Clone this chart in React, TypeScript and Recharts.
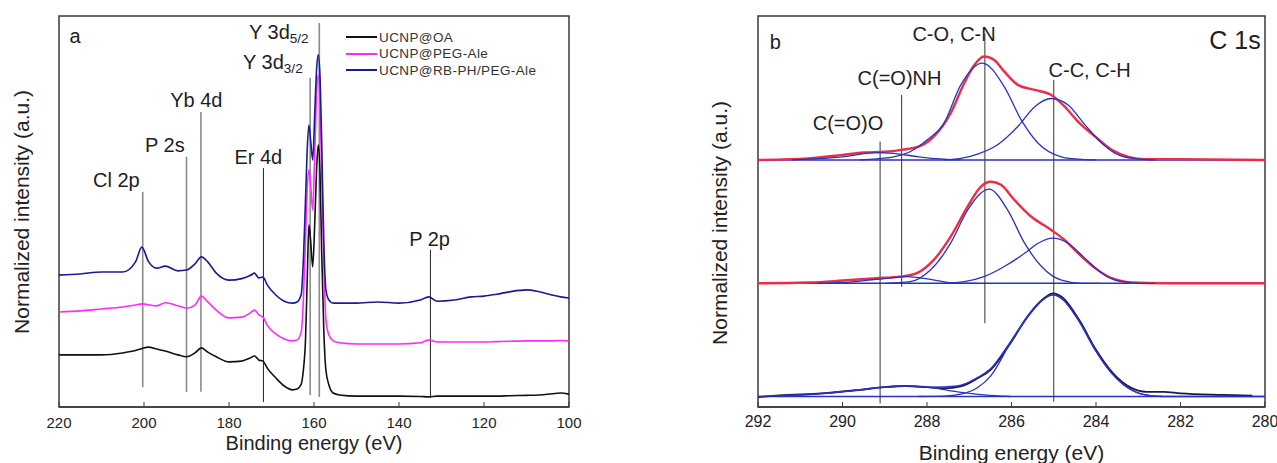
import React from 'react';
import { LineChart, Line, XAxis, YAxis, ReferenceLine, ReferenceDot, ReferenceArea, Legend } from 'recharts';

const FONT = '"Liberation Sans", Arial, sans-serif';

// panel a – survey spectra
const surveyEnergy = [220, 215, 210, 205, 202, 200.5, 199, 197, 195, 192, 190, 188, 186.5, 185, 183, 180, 177, 175, 174, 173, 172, 171, 169, 167, 165, 164, 163, 162.5, 162, 161.6, 161.2, 160.8, 160.3, 159.8, 159.4, 159.0, 158.6, 158.2, 157.7, 157.2, 156.5, 155.5, 154, 150, 145, 140, 135, 133, 131, 127, 123, 120, 117, 114, 110, 107, 104, 102, 100];
const oaIntensity = [13.4, 13.4, 13.4, 13.9, 14.5, 15.0, 15.4, 14.9, 14.4, 13.4, 12.9, 13.9, 15.2, 14.1, 12.9, 11.6, 11.8, 12.6, 13.1, 12.1, 11.8, 10.0, 7.5, 5.4, 4.4, 4.6, 5.9, 9.5, 17.2, 32.6, 46.8, 42.9, 36.0, 48.1, 60.9, 67.4, 60.9, 40.4, 19.8, 9.5, 5.7, 3.6, 3.1, 2.8, 2.8, 2.8, 2.7, 2.6, 2.8, 2.8, 2.8, 2.8, 2.8, 2.9, 3.0, 3.1, 3.4, 3.6, 3.3];
const pegIntensity = [24.4, 24.7, 25.2, 25.7, 26.2, 26.5, 26.3, 26.0, 26.8, 26.0, 25.4, 26.2, 28.5, 27.0, 24.9, 22.9, 23.1, 24.2, 24.9, 23.7, 23.1, 21.0, 18.8, 17.5, 17.0, 17.2, 19.3, 27.5, 42.9, 55.8, 61.0, 57.1, 50.6, 66.1, 80.2, 85.3, 78.9, 60.9, 37.8, 22.4, 18.5, 17.0, 16.5, 16.2, 16.2, 16.2, 16.5, 17.2, 16.7, 16.7, 16.7, 16.7, 16.8, 16.9, 17.0, 17.0, 17.0, 17.1, 17.0];
const rbIntensity = [33.9, 34.2, 34.7, 34.7, 37.3, 41.1, 37.5, 35.7, 36.2, 35.0, 35.2, 36.8, 38.6, 37.3, 34.4, 32.6, 33.0, 33.8, 34.4, 33.2, 33.4, 31.4, 28.8, 27.2, 26.7, 27.0, 29.0, 37.8, 53.2, 66.1, 72.5, 68.6, 63.5, 76.3, 86.6, 90.5, 85.3, 68.6, 42.9, 30.1, 27.5, 26.7, 26.7, 26.7, 27.0, 26.7, 27.5, 28.3, 27.2, 27.5, 28.3, 28.5, 29.0, 29.6, 30.1, 29.6, 28.8, 28.3, 28.0];

const surveyNames = ['UCNP@OA', 'UCNP@PEG-Ale', 'UCNP@RB-PH/PEG-Ale'];
const surveyColors = ['#111111', '#ff2bff', '#1a1a96'];
const surveyValues = [oaIntensity, pegIntensity, rbIntensity];

const surveyTicks = [220, 200, 180, 160, 140, 120, 100];

const peakNames = ['Cl 2p', 'P 2s', 'Yb 4d', 'Er 4d', 'Y 3d', 'Y 3d', 'P 2p'];
const peakSubs = ['', '', '', '', '3/2', '5/2', ''];
const peakLineEnergy = [200.3, 190, 186.6, 171.9, 160.9, 158.75, 132.6];
const peakLineTop = [55.3, 64.3, 75.8, 61.4, 84.6, 98.7, 40.4];
const peakLineBottom = [5.1, 3.9, 3.9, 1.3, 3.1, 2.6, 2.3];
const peakLineColor = ['#8a8a8a', '#8a8a8a', '#8a8a8a', '#222', '#8a8a8a', '#8a8a8a', '#222'];
const peakLabelEnergy = [206.5, 195.1, 187.7, 173.1, 176.7, 175.3, 132.8];
const peakLabelHeight = [58.4, 67.4, 78.9, 64.3, 88.8, 96.5, 43.1];

// panel b – C 1s high resolution
const c1sTicks = [292, 290, 288, 286, 284, 282, 280];
const levelBaselines = [63.5, 31.8, 2.7];

const topEnvEnergy = [292, 290.8, 290.0, 289.5, 289.0, 288.6, 288.2, 287.84, 287.44, 287.12, 286.88, 286.65, 286.41, 286.17, 285.85, 285.45, 285.06, 284.74, 284.42, 284.02, 283.63, 283.23, 282.83, 282.04, 280];
const topEnvValue = [63.5, 63.9, 64.8, 65.4, 65.6, 66.1, 66.9, 69.5, 75.5, 83.2, 87.9, 90.1, 89.2, 86.2, 82.8, 81.5, 80.2, 77.2, 73.3, 69.5, 66.1, 64.3, 63.7, 63.7, 63.5];
const topCOEnergy = [289.6, 289.19, 288.79, 288.4, 288.0, 287.6, 287.2, 286.69, 286.17, 285.77, 285.37, 284.82, 284.42, 284.0];
const topCOValue = [63.5, 63.8, 64.3, 65.6, 68.6, 72.9, 82.8, 88.4, 82.3, 73.8, 67.8, 64.3, 63.7, 63.5];
const topCCEnergy = [287.6, 287.2, 286.8, 286.33, 285.85, 285.45, 285.06, 284.66, 284.26, 283.86, 283.47, 282.99, 282.6];
const topCCValue = [63.5, 63.9, 65.0, 67.4, 72.1, 77.2, 79.3, 77.6, 72.5, 67.8, 64.8, 63.7, 63.5];
const topCOOEnergy = [291.2, 290.8, 290.0, 289.2, 288.8, 288.2, 287.6, 287.2];
const topCOOValue = [63.5, 63.7, 64.3, 65.4, 65.2, 64.3, 63.7, 63.5];

const midEnvEnergy = [292, 290.8, 290.0, 289.2, 288.63, 288.24, 287.84, 287.44, 287.04, 286.73, 286.49, 286.25, 285.93, 285.53, 285.06, 284.74, 284.42, 284.02, 283.63, 283.15, 282.43, 280];
const midEnvValue = [31.8, 32.0, 32.5, 33.1, 33.5, 34.4, 37.8, 43.8, 51.5, 56.6, 57.9, 57.1, 53.2, 48.9, 45.5, 42.9, 39.5, 35.7, 33.1, 32.0, 31.8, 31.8];
const midCOEnergy = [289.0, 288.4, 287.92, 287.44, 287.04, 286.53, 286.09, 285.69, 285.29, 284.82, 284.34, 283.9];
const midCOValue = [31.8, 32.2, 35.2, 42.1, 50.6, 56.0, 50.6, 42.1, 36.1, 32.6, 31.8, 31.8];
const midCCEnergy = [287.6, 287.12, 286.65, 286.17, 285.69, 285.37, 285.02, 284.66, 284.26, 283.86, 283.47, 282.99, 282.6];
const midCCValue = [31.8, 32.2, 33.5, 36.1, 39.5, 42.1, 43.4, 42.1, 38.2, 34.4, 32.4, 31.8, 31.8];
const midCOOEnergy = [290.6, 290.0, 289.2, 288.47, 287.92, 287.28, 286.8];
const midCOOValue = [31.8, 32.0, 32.8, 33.5, 32.8, 31.8, 31.8];

const lowDataEnergy = [292, 291.5, 290.5, 289.6, 289.0, 288.5, 288.0, 287.6, 287.2, 286.8, 286.5, 286.0, 285.6, 285.2, 285.02, 284.8, 284.4, 284.0, 283.6, 283.2, 282.8, 282.4, 282.0, 281.0, 280.3];
const lowDataValue = [2.5, 3.0, 3.5, 4.4, 5.1, 5.4, 5.1, 4.8, 5.3, 7.4, 9.5, 16.8, 23.6, 28.2, 29.2, 28.2, 22.4, 14.7, 8.7, 5.1, 3.9, 3.9, 3.5, 3.1, 2.9];
const lowFitEnergy = [292, 290.5, 289.6, 289.0, 288.47, 287.92, 287.28, 286.8, 286.49, 286.01, 285.61, 285.21, 285.02, 284.82, 284.42, 284.02, 283.63, 283.23, 282.83, 282.43, 281.5, 280];
const lowFitValue = [2.7, 3.5, 4.4, 5.1, 5.4, 5.1, 5.4, 7.6, 9.9, 17.0, 23.5, 28.0, 28.8, 28.0, 22.4, 14.7, 8.7, 4.8, 3.1, 2.7, 2.7, 2.7];
const lowCCEnergy = [288.2, 287.6, 287.2, 286.8, 286.49, 286.01, 285.61, 285.21, 285.02, 284.82, 284.42, 284.02, 283.63, 283.23, 282.83, 282.43];
const lowCCValue = [2.7, 2.8, 3.3, 5.0, 8.0, 16.8, 23.2, 27.9, 28.8, 27.9, 22.4, 14.7, 8.7, 4.8, 3.1, 2.7];
const lowCOOEnergy = [291.5, 290.4, 289.6, 289.03, 288.47, 287.92, 287.28, 286.65, 286.01];
const lowCOOValue = [2.7, 3.5, 4.4, 5.1, 5.4, 5.0, 3.9, 3.1, 2.7];

const bondNames = ['C(=O)O', 'C(=O)NH', 'C-O, C-N', 'C-C, C-H'];
const bondLineEnergy = [289.11, 288.6, 286.63, 285.0];
const bondLineTop = [68.2, 80.2, 96.0, 84.1];
const bondLineBottom = [0.9, 30.9, 21.5, 1.4];
const bondLabelEnergy = [289.87, 288.65, 287.36, 284.15];
const bondLabelHeight = [72.9, 84.5, 96.0, 86.6];

const pairs = (energy: number[], values: number[]) => energy.map((e, i) => ({ e, v: values[i] }));

const RED = '#ec2d48';
const FIT_BLUE = '#2a32c0';

const componentSeries = [
  [topCOOEnergy, topCOOValue], [topCOEnergy, topCOValue], [topCCEnergy, topCCValue],
  [midCOOEnergy, midCOOValue], [midCOEnergy, midCOValue], [midCCEnergy, midCCValue],
  [lowCOOEnergy, lowCOOValue], [lowCCEnergy, lowCCValue], [lowFitEnergy, lowFitValue],
];

const Tag = (props: any) => {
  const { cx, cy, text, sub, size = 20, anchor = 'middle' } = props;
  return (
    <text x={cx} y={cy} textAnchor={anchor} dominantBaseline="central" fontSize={size} fill="#1e1e1e">
      {text}
      {sub ? <tspan fontSize={size * 0.68} dy={6}>{sub}</tspan> : null}
    </text>
  );
};

const VerticalTitle = ({ x, y }: { x: number; y: number }) => (
  <text x={x} y={y} transform={`rotate(-90, ${x}, ${y})`} textAnchor="middle" dominantBaseline="central" fontSize={21} fill="#222">
    Normalized intensity (a.u.)
  </text>
);

const renderLegend = (props: any) => (
  <div style={{ fontSize: 13.5, color: '#333', letterSpacing: 0.4 }}>
    {props.payload.map((entry: any) => (
      <div key={entry.value} style={{ display: 'flex', alignItems: 'center', height: 16.5 }}>
        <span style={{ width: 31, borderTop: `2px solid ${entry.color}`, marginRight: 2 }} />
        <span>{entry.value}</span>
      </div>
    ))}
  </div>
);

const FRAME = '#3a3a3a';

const SurveyPanel = () => (
  <LineChart width={640} height={463} margin={{ top: 16, right: 71, bottom: 0, left: 59 }}>
    <XAxis
      type="number"
      dataKey="e"
      domain={[100, 220]}
      ticks={surveyTicks}
      reversed
      allowDataOverflow
      height={56}
      axisLine={{ stroke: FRAME, strokeWidth: 1.5 }}
      tickLine={{ stroke: FRAME }}
      tickSize={-5}
      tickMargin={15}
      tick={{ fontSize: 15, fill: '#222' }}
      label={{ value: 'Binding energy (eV)', position: 'insideBottom', offset: 13, fontSize: 20, fill: '#222' }}
    />
    <YAxis type="number" domain={[0, 100.5]} hide />
    <ReferenceArea x1={100} x2={220} y1={0} y2={100.5} fill="none" stroke={FRAME} strokeWidth={1.5} />
    <Legend
      layout="vertical"
      align="center"
      verticalAlign="middle"
      wrapperStyle={{ left: 346, top: 29, width: 230 }}
      content={renderLegend}
    />
    {peakLineEnergy.map((e, i) => (
      <ReferenceLine
        key={`pl${i}`}
        segment={[{ x: e, y: peakLineBottom[i] }, { x: e, y: peakLineTop[i] }]}
        stroke={peakLineColor[i]}
        strokeWidth={peakLineColor[i] === '#222' ? 1 : 1.6}
      />
    ))}
    {surveyNames.map((name, i) => (
      <Line
        key={name}
        name={name}
        data={pairs(surveyEnergy, surveyValues[i])}
        dataKey="v"
        type="monotone"
        stroke={surveyColors[i]}
        strokeWidth={1.6}
        dot={false}
        isAnimationActive={false}
      />
    ))}
    {peakNames.map((name, i) => (
      <ReferenceDot
        key={`pt${i}`}
        x={peakLabelEnergy[i]}
        y={peakLabelHeight[i]}
        r={0}
        shape={(p: any) => <Tag cx={p.cx} cy={p.cy} text={name} sub={peakSubs[i]} anchor={peakSubs[i] ? 'start' : 'middle'} />}
      />
    ))}
    <ReferenceDot x={216.2} y={95.4} r={0} shape={(p: any) => <Tag cx={p.cx} cy={p.cy} text="a" />} />
    <VerticalTitle x={21} y={212} />
  </LineChart>
);

const C1sPanel = () => (
  <LineChart width={637} height={463} margin={{ top: 16, right: 12, bottom: 0, left: 118 }}>
    <XAxis
      type="number"
      dataKey="e"
      domain={[280, 292]}
      ticks={c1sTicks}
      reversed
      allowDataOverflow
      height={56}
      axisLine={{ stroke: FRAME, strokeWidth: 1.5 }}
      tickLine={{ stroke: FRAME }}
      tickSize={-5}
      tickMargin={14}
      tick={{ fontSize: 16, fill: '#222' }}
      label={{ value: 'Binding energy (eV)', position: 'insideBottom', offset: 3, fontSize: 21, fill: '#222' }}
    />
    <YAxis type="number" domain={[0, 100.5]} hide />
    <ReferenceArea x1={280} x2={292} y1={0} y2={100.5} fill="none" stroke={FRAME} strokeWidth={1.5} />
    {levelBaselines.map((b) => (
      <ReferenceLine key={`bl${b}`} y={b} stroke={FIT_BLUE} strokeWidth={1.4} />
    ))}
    {bondLineEnergy.map((e, i) => (
      <ReferenceLine
        key={`bd${i}`}
        segment={[{ x: e, y: bondLineBottom[i] }, { x: e, y: bondLineTop[i] }]}
        stroke="#333"
        strokeWidth={1}
      />
    ))}
    <Line data={pairs(topEnvEnergy, topEnvValue)} dataKey="v" type="monotone" stroke={RED} strokeWidth={2.4} dot={false} isAnimationActive={false} />
    <Line data={pairs(midEnvEnergy, midEnvValue)} dataKey="v" type="monotone" stroke={RED} strokeWidth={2.4} dot={false} isAnimationActive={false} />
    <Line data={pairs(lowDataEnergy, lowDataValue)} dataKey="v" type="monotone" stroke="#1a1a48" strokeWidth={1.8} dot={false} isAnimationActive={false} />
    {componentSeries.map(([en, val], i) => (
      <Line
        key={`cmp${i}`}
        data={pairs(en, val)}
        dataKey="v"
        type="monotone"
        stroke={FIT_BLUE}
        strokeWidth={1.3}
        dot={false}
        isAnimationActive={false}
      />
    ))}
    {bondNames.map((name, i) => (
      <ReferenceDot
        key={`bt${i}`}
        x={bondLabelEnergy[i]}
        y={bondLabelHeight[i]}
        r={0}
        shape={(p: any) => <Tag cx={p.cx} cy={p.cy} text={name} size={20} />}
      />
    ))}
    <ReferenceDot x={291.59} y={93.7} r={0} shape={(p: any) => <Tag cx={p.cx} cy={p.cy} text="b" />} />
    <ReferenceDot x={280.1} y={94.3} r={0} shape={(p: any) => <Tag cx={p.cx} cy={p.cy} text="C 1s" size={25} anchor="end" />} />
    <VerticalTitle x={79} y={223} />
  </LineChart>
);

export default function App() {
  return (
    <div style={{ width: 1277, height: 463, display: 'flex', fontFamily: FONT, background: '#fff' }}>
      <style>{'body { margin: 0; }'}</style>
      <SurveyPanel />
      <C1sPanel />
    </div>
  );
}
